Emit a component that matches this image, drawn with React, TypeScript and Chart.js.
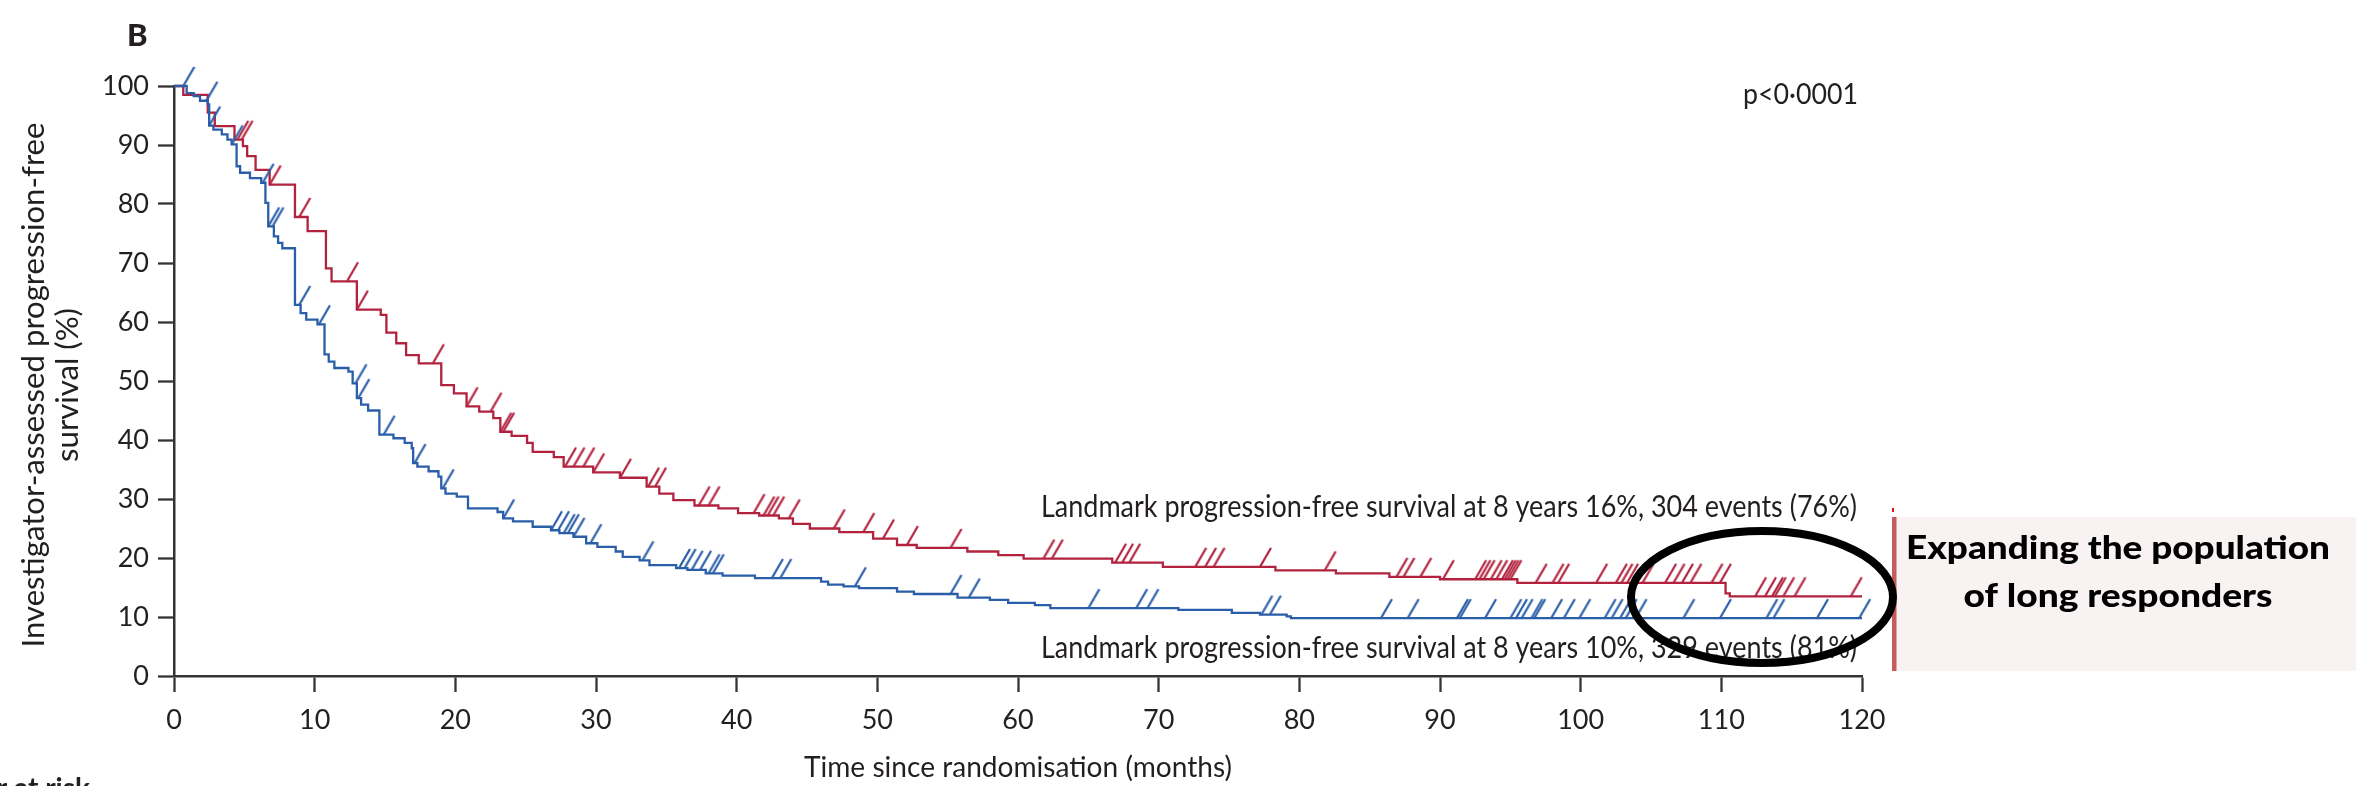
import React, { useEffect, useRef } from 'react';
import { Chart, registerables } from 'chart.js';

Chart.register(...registerables);

// ---------- data ----------
const xTickValues = [0, 10, 20, 30, 40, 50, 60, 70, 80, 90, 100, 110, 120];
const yTickValues = [0, 10, 20, 30, 40, 50, 60, 70, 80, 90, 100];

// experimental arm (red): event times (months) and survival (%) after each drop
const redTimes = [0, 0.66, 2.4, 2.9, 4.3, 4.9, 5.2, 5.8, 6.8, 8.6, 9.5, 10.8, 11.2, 13.0, 14.7, 15.1, 15.8, 16.5, 17.4, 19.0, 19.9, 20.8, 21.7, 22.7, 23.2, 24.0, 25.1, 25.5, 27.0, 27.7, 29.8, 31.7, 33.6, 34.5, 35.5, 37.0, 38.7, 40.1, 41.6, 43.0, 44.0, 45.2, 47.3, 49.7, 51.4, 52.8, 56.4, 58.6, 60.4, 66.7, 70.3, 78.3, 82.6, 86.4, 90.0, 95.5, 110.3, 110.6, 120];
const redSurv = [100, 98.5, 95.5, 93.2, 90.9, 89.8, 88.1, 85.8, 83.3, 77.8, 75.4, 69.1, 66.9, 62.1, 61.2, 58.2, 56.4, 54.4, 53.0, 49.3, 47.9, 45.7, 44.8, 43.7, 41.4, 40.7, 39.5, 38.0, 37.1, 35.5, 34.5, 33.6, 32.1, 30.9, 29.8, 28.9, 28.4, 27.6, 27.2, 26.7, 25.8, 25.0, 24.4, 23.3, 22.2, 21.7, 21.1, 20.5, 19.9, 19.2, 18.5, 17.9, 17.4, 16.8, 16.4, 15.8, 14.0, 13.5, 13.5];

// control arm (blue)
const blueTimes = [0, 0.9, 1.4, 1.85, 2.4, 2.5, 2.8, 3.4, 3.8, 4.1, 4.45, 4.7, 5.4, 6.2, 6.5, 6.7, 7.1, 7.4, 7.7, 8.6, 9.0, 9.4, 10.2, 10.7, 11.0, 11.4, 12.4, 12.7, 13.0, 13.3, 13.8, 14.6, 15.6, 16.4, 16.9, 17.0, 17.3, 18.1, 18.8, 19.0, 19.3, 20.1, 20.9, 23.0, 23.4, 24.1, 25.5, 26.8, 27.4, 28.4, 29.3, 30.1, 31.4, 31.9, 33.1, 33.8, 35.7, 36.5, 37.8, 39.0, 41.3, 46.0, 46.5, 47.6, 48.7, 51.4, 52.6, 55.7, 58.0, 59.3, 61.2, 62.3, 71.4, 75.2, 77.2, 79.1, 79.4, 120];
const blueSurv = [100, 98.8, 98.3, 97.5, 96.9, 93.3, 92.6, 91.8, 90.9, 90.1, 86.4, 85.3, 84.4, 83.6, 80.2, 76.2, 74.5, 73.4, 72.5, 62.9, 61.5, 60.4, 59.6, 54.5, 53.3, 52.2, 51.6, 49.6, 47.1, 46.0, 45.0, 40.9, 40.3, 39.5, 38.6, 36.1, 35.5, 34.7, 33.8, 31.8, 30.9, 30.4, 28.4, 27.8, 26.7, 26.2, 25.3, 24.7, 24.2, 23.6, 22.5, 21.9, 21.1, 20.2, 19.6, 18.8, 18.3, 18.0, 17.4, 17.0, 16.6, 16.0, 15.5, 15.2, 14.9, 14.3, 13.9, 13.3, 12.9, 12.4, 12.0, 11.5, 11.2, 10.7, 10.4, 10.1, 9.8, 9.8];

// censoring times (months)
const redCensored = [4.5, 4.8, 6.8, 8.9, 12.3, 13.0, 18.4, 20.8, 22.5, 23.2, 23.4, 27.8, 28.4, 29.1, 29.8, 31.7, 33.7, 34.2, 37.3, 38.0, 41.2, 41.9, 42.2, 42.6, 43.7, 46.9, 49.0, 50.4, 52.1, 55.2, 61.8, 62.4, 66.9, 67.4, 67.9, 72.6, 73.3, 73.9, 77.2, 81.8, 86.9, 87.4, 88.6, 90.2, 92.5, 92.8, 93.1, 93.6, 94.0, 94.4, 94.6, 94.8, 95.0, 96.8, 98.0, 98.4, 101.1, 102.5, 102.9, 103.3, 103.9, 104.4, 106.0, 106.6, 107.2, 107.8, 109.3, 109.9, 112.4, 113.1, 113.6, 113.8, 114.4, 115.2, 119.2];
const blueCensored = [0.66, 2.3, 2.5, 4.1, 6.3, 6.7, 7.0, 8.9, 10.3, 12.9, 13.1, 14.9, 17.1, 19.1, 23.4, 26.8, 27.3, 27.7, 28.0, 28.4, 29.6, 33.3, 35.9, 36.3, 36.8, 37.4, 38.0, 38.3, 42.5, 43.1, 48.4, 55.2, 56.5, 65.0, 68.4, 69.2, 77.3, 77.9, 85.8, 87.7, 91.2, 91.4, 93.2, 95.0, 95.4, 95.8, 96.5, 96.7, 97.9, 98.8, 99.9, 101.7, 102.2, 102.8, 103.2, 103.9, 107.3, 109.9, 113.2, 113.7, 116.8, 119.8];

const panelLabel = 'B';
const yTitleLines = ['Investigator-assessed progression-free', 'survival (%)'];
const xTitle = 'Time since randomisation (months)';
const pValueText = 'p<0·0001';
const redNote = 'Landmark progression-free survival at 8 years 16%, 304 events (76%)';
const blueNote = 'Landmark progression-free survival at 8 years 10%, 329 events (81%)';
const boxLines = ['Expanding the population', 'of long responders'];
const atRiskText = 'Number at risk';

// ---------- styles ----------
const RED = '#b2223e';
const BLUE = '#2a5ea8';
const AXIS = '#333333';
const TEXT = '#231f20';
const FONT = 'Lato, "Open Sans", sans-serif';

function survivalAt(times: number[], surv: number[], t: number) {
  let s = surv[0];
  for (let i = 0; i < times.length; i++) {
    if (times[i] <= t) s = surv[i];
  }
  return s;
}

function makeTickMark(color: string) {
  const c = document.createElement('canvas');
  c.width = 26;
  c.height = 42;
  const g = c.getContext('2d')!;
  g.strokeStyle = color;
  g.lineWidth = 2.2;
  g.beginPath();
  g.moveTo(13, 21);
  g.lineTo(24, 2);
  g.stroke();
  return c;
}

function fitText(ctx: CanvasRenderingContext2D, text: string, x: number, y: number, width: number, font: string, align: CanvasTextAlign) {
  ctx.save();
  ctx.font = font;
  const w = ctx.measureText(text).width;
  const s = width / w;
  ctx.translate(x, y);
  ctx.scale(s, 1);
  ctx.textAlign = align;
  ctx.fillText(text, 0, 0);
  ctx.restore();
}

const overlayPlugin = {
  id: 'overlay',
  afterDraw(chart: any) {
    const ctx: CanvasRenderingContext2D = chart.ctx;
    const area = chart.chartArea;
    ctx.save();
    ctx.fillStyle = TEXT;
    ctx.textBaseline = 'alphabetic';

    // panel letter
    ctx.font = `900 31px ${FONT}`;
    ctx.textAlign = 'left';
    ctx.fillText(panelLabel, 127, 46);

    // y-axis title (two rotated lines)
    ctx.save();
    ctx.font = `30px ${FONT}`;
    const w1 = ctx.measureText(yTitleLines[0]).width;
    const sc = 525 / w1;
    const cy = (area.top + area.bottom) / 2;
    ctx.translate(44, cy + 4);
    ctx.rotate(-Math.PI / 2);
    ctx.scale(sc, 1);
    ctx.textAlign = 'center';
    ctx.fillText(yTitleLines[0], 0, 0);
    ctx.fillText(yTitleLines[1], 0, 34);
    ctx.restore();

    // x-axis title
    fitText(ctx, xTitle, (area.left + area.right) / 2, 777, 428, `29px ${FONT}`, 'center');

    // p value
    fitText(ctx, pValueText, 1743, 104, 115, `29px ${FONT}`, 'left');

    // landmark notes
    fitText(ctx, redNote, 1041, 517, 816, `30px ${FONT}`, 'left');
    fitText(ctx, blueNote, 1041, 658, 816, `30px ${FONT}`, 'left');

    // number at risk (cut off at bottom)
    ctx.font = `bold 28px ${FONT}`;
    ctx.textAlign = 'right';
    ctx.fillText(atRiskText, 90, 798);

    // callout box
    ctx.fillStyle = '#f9f2f2';
    ctx.fillRect(1892, 517, 2356 - 1892, 154);
    ctx.fillStyle = '#c65b5b';
    ctx.fillRect(1892, 517, 4.5, 154);
    ctx.fillStyle = '#e01010';
    ctx.fillRect(1892, 508, 2, 4);
    ctx.fillStyle = '#000000';
    fitText(ctx, boxLines[0], 2118, 559, 424, `900 33px ${FONT}`, 'center');
    fitText(ctx, boxLines[1], 2118, 607, 309, `900 33px ${FONT}`, 'center');

    // ellipse highlight
    ctx.strokeStyle = '#000000';
    ctx.lineWidth = 8;
    ctx.beginPath();
    ctx.ellipse(1762, 597, 131, 66, 0, 0, Math.PI * 2);
    ctx.stroke();

    ctx.restore();
  },
};

export default function App() {
  const ref = useRef<HTMLCanvasElement | null>(null);

  useEffect(() => {
    if (!ref.current) return;
    const redTick = makeTickMark(RED);
    const blueTick = makeTickMark(BLUE);
    const redLine = redTimes.map((t, i) => ({ x: t, y: redSurv[i] }));
    const blueLine = blueTimes.map((t, i) => ({ x: t, y: blueSurv[i] }));
    const redMarks = redCensored.map((t) => ({ x: t, y: survivalAt(redTimes, redSurv, t) }));
    const blueMarks = blueCensored.map((t) => ({ x: t, y: survivalAt(blueTimes, blueSurv, t) }));

    const tickFont = { family: FONT, size: 27 };

    const chart = new Chart(ref.current, {
      type: 'line',
      data: {
        datasets: [
          { type: 'scatter', label: 'blue censored', data: blueMarks, pointStyle: blueTick as any, pointRadius: 10, showLine: false, clip: false as any },
          { type: 'scatter', label: 'red censored', data: redMarks, pointStyle: redTick as any, pointRadius: 10, showLine: false, clip: false as any },
          { label: 'Control', data: blueLine, borderColor: BLUE, borderWidth: 2.3, pointRadius: 0, stepped: 'before', fill: false, clip: false as any },
          { label: 'Experimental', data: redLine, borderColor: RED, borderWidth: 2.3, pointRadius: 0, stepped: 'before', fill: false, clip: false as any },
        ],
      },
      options: {
        responsive: false,
        animation: false,
        events: [],
        layout: { padding: { top: 86, right: 494, bottom: 0, left: 0 } },
        plugins: { legend: { display: false }, tooltip: { enabled: false }, title: { display: false } },
        scales: {
          x: {
            type: 'linear',
            min: 0,
            max: 120,
            afterBuildTicks: (scale: any) => {
              scale.ticks = xTickValues.map((v) => ({ value: v }));
            },
            afterFit: (scale: any) => {
              scale.height = 110;
            },
            ticks: { font: tickFont, color: TEXT, padding: 12, autoSkip: false, maxRotation: 0, callback: (v: any) => String(v) },
            grid: { display: true, drawOnChartArea: false, drawTicks: true, tickLength: 16, tickWidth: 2.3, tickColor: AXIS, color: AXIS },
            border: { display: true, color: AXIS, width: 2.5 },
          },
          y: {
            type: 'linear',
            min: 0,
            max: 100,
            afterBuildTicks: (scale: any) => {
              scale.ticks = yTickValues.map((v) => ({ value: v }));
            },
            afterFit: (scale: any) => {
              scale.width = 174;
            },
            ticks: { font: tickFont, color: TEXT, padding: 9, autoSkip: false, callback: (v: any) => String(v) },
            grid: { display: true, drawOnChartArea: false, drawTicks: true, tickLength: 16, tickWidth: 2.3, tickColor: AXIS, color: AXIS },
            border: { display: true, color: AXIS, width: 2.5 },
          },
        },
      } as any,
      plugins: [overlayPlugin],
    });
    return () => chart.destroy();
  }, []);

  return (
    <div style={{ position: 'absolute', left: 0, top: 0, width: 2356, height: 786, background: '#ffffff', overflow: 'hidden' }}>
      <canvas ref={ref} width={2356} height={786} style={{ display: 'block', width: 2356, height: 786 }} />
    </div>
  );
}
